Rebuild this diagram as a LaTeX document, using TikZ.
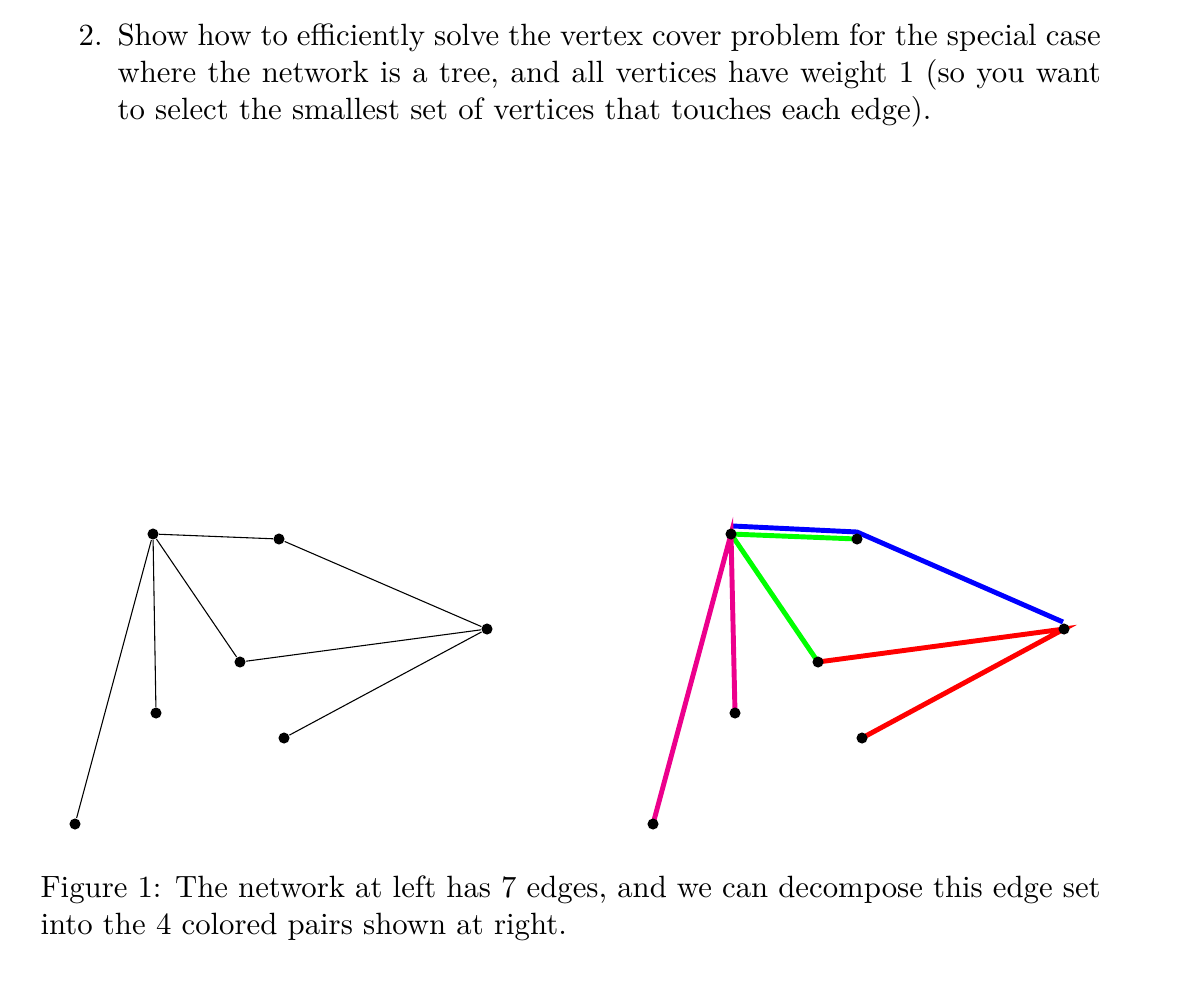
\documentclass[tikz,border=0pt]{standalone}
\begin{document}
\begin{tikzpicture}[x=0.325pt,y=-0.325pt,
  dot/.style={circle,fill=black,inner sep=0pt,minimum size=3.6pt},
  thin edge/.style={draw=black,line width=0.35pt},
  thick edge/.style={line width=1.6pt},
  txt/.style={inner sep=0pt,anchor=north west,align=justify}]
\useasboundingbox (0,0) rectangle (1201,996);
\node[inner sep=0pt,anchor=base west] (num) at (78,45) {2.};
\node[txt,text width=319.5pt] (item) at (117,23.5) {Show how to efficiently solve the vertex cover problem for the special case where the network is a tree, and all vertices have weight 1 (so you want to select the smallest set of vertices that touches each edge).};
% left graph
\foreach \n/\x/\y in {a/153/534,b/279/539,c/487/629,d/240/662,e/156/713,f/284/738,g/75/824}
  \node[dot] (L\n) at (\x,\y) {};
\foreach \u/\v in {a/b,b/c,a/d,d/c,a/e,c/f,a/g}
  \draw[thin edge] (L\u) -- (L\v);
% right graph
\foreach \n/\x/\y in {a/731/534,b/857/539,c/1064/629,d/818/662,e/735/713,f/862/738,g/653/824}
  \coordinate (R\n) at (\x,\y);
\coordinate (B1) at (733,526);
\coordinate (B2) at (857,532);
\coordinate (B3) at (1063,622);
\draw[thick edge,blue] (B1) -- (B2) -- (B3);
\draw[thick edge,green] (Ra) -- (Rb);
\draw[thick edge,green] (Ra) -- (Rd);
\draw[thick edge,red] (Rd) -- (Rc) -- (Rf);
\draw[thick edge,magenta] (Re) -- (Ra) -- (Rg);
\foreach \n in {a,b,c,d,e,f,g} \node[dot] at (R\n) {};
\node[txt,text width=344.5pt] (cap) at (40,875.5) {Figure 1: The network at left has 7 edges, and we can decompose this edge set into the 4 colored pairs shown at right.};
\end{tikzpicture}
\end{document}
